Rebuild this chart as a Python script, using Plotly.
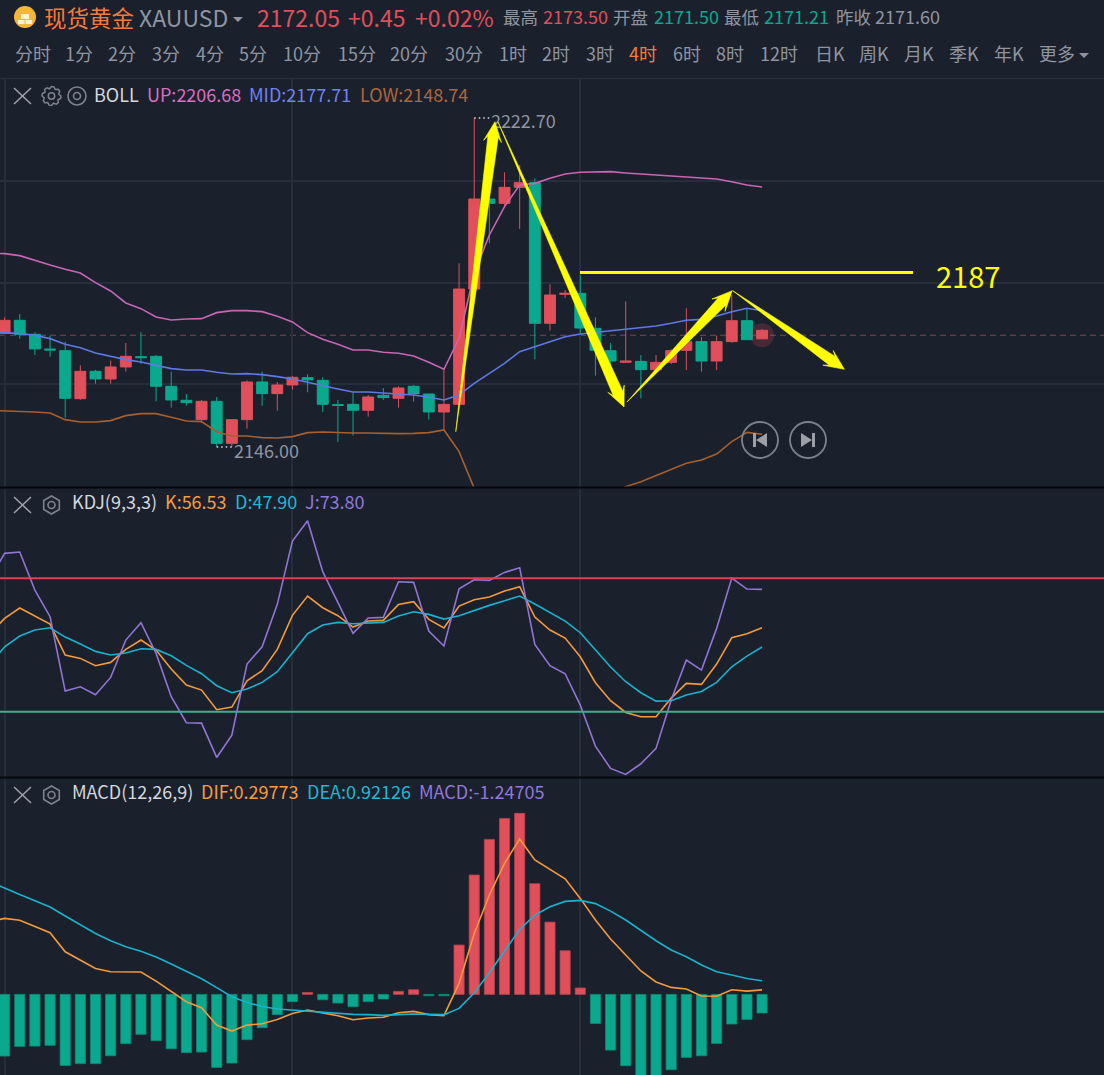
import numpy as np
import plotly.graph_objects as go
from plotly.subplots import make_subplots

W, H = 1104, 1075
BG = '#1a202c'
GRID = '#252e3a'
RED = '#e04f5a'
GREEN = '#0aa98d'
YELLOW = '#ffff00'
GRAY = '#8f95a0'
FONT = 'Noto Sans CJK SC'

# candles, one row per ten bars
candle_idx = list(range(51))
opens = [2172.50, 2175.53, 2172.27, 2168.85, 2168.46, 2157.27, 2163.65, 2161.86, 2164.66, 2167.06,
         2167.14, 2160.15, 2156.89, 2152.38, 2156.65, 2146.86, 2152.38, 2161.16, 2158.44, 2160.46,
         2162.17, 2161.55, 2155.88, 2155.95, 2154.56, 2158.05, 2157.35, 2160.15, 2158.36, 2154.17,
         2155.95, 2182.83, 2203.81, 2202.80, 2206.53, 2207.62, 2174.83, 2181.59, 2181.82, 2173.67,
         2168.46, 2165.74, 2165.97, 2164.03, 2165.74, 2168.54, 2170.56, 2166.05, 2170.56, 2175.45,
         2171.21]
highs = [2176.23, 2177.01, 2172.74, 2171.96, 2170.56, 2165.04, 2163.96, 2166.13, 2170.25, 2172.74,
         2167.45, 2163.57, 2158.36, 2156.96, 2157.66, 2152.38, 2161.55, 2163.57, 2161.16, 2162.56,
         2162.95, 2162.25, 2156.96, 2158.75, 2158.13, 2159.76, 2160.15, 2160.46, 2158.36, 2164.34,
         2188.82, 2222.70, 2203.81, 2210.03, 2211.74, 2208.63, 2183.92, 2182.60, 2186.10, 2176.23,
         2170.25, 2179.96, 2167.45, 2167.45, 2168.77, 2178.33, 2171.65, 2171.96, 2181.44, 2178.17,
         2173.50]
lows = [2172.50, 2171.26, 2167.45, 2167.06, 2152.85, 2156.96, 2160.77, 2160.77, 2163.57, 2165.36,
        2156.65, 2155.18, 2155.64, 2151.68, 2146.00, 2146.09, 2150.28, 2155.64, 2154.48, 2159.37,
        2158.75, 2154.17, 2147.17, 2148.65, 2153.08, 2156.96, 2155.18, 2156.58, 2152.38, 2149.97,
        2155.95, 2182.83, 2193.48, 2201.79, 2196.82, 2166.44, 2173.12, 2180.74, 2172.50, 2162.63,
        2165.12, 2165.74, 2157.35, 2164.03, 2165.35, 2163.95, 2163.56, 2163.95, 2170.32, 2171.02,
        2171.21]
closes = [2175.53, 2172.27, 2168.85, 2168.62, 2157.35, 2163.65, 2161.86, 2164.66, 2167.14, 2166.83,
          2160.15, 2156.96, 2156.34, 2156.65, 2146.86, 2152.38, 2161.16, 2158.44, 2160.46, 2162.25,
          2161.63, 2155.95, 2155.72, 2154.56, 2157.66, 2157.51, 2159.76, 2158.44, 2154.17, 2155.95,
          2182.83, 2203.81, 2202.80, 2206.53, 2207.62, 2174.83, 2181.44, 2181.82, 2173.74, 2168.54,
          2166.05, 2166.05, 2164.03, 2165.74, 2168.46, 2170.56, 2166.05, 2170.56, 2175.45, 2171.02,
          2173.20]

# lines carry one extra leading bar so they reach the left edge
line_idx = list(range(-1, 51))
boll_up = [2191.15, 2191.07, 2190.61, 2189.44, 2188.43, 2187.42, 2186.57, 2184.31, 2182.37, 2179.57, 2178.25,
           2176.31, 2175.61, 2175.85, 2175.92, 2177.32, 2177.79, 2177.79, 2177.55, 2176.47, 2175.15,
           2172.66, 2171.11, 2169.94, 2168.62, 2168.62, 2168.08, 2167.84, 2167.22, 2165.74, 2164.11,
           2171.33, 2186.49, 2195.42, 2202.03, 2207.08, 2207.46, 2208.63, 2209.64, 2210.03, 2210.18,
           2210.18, 2209.87, 2209.64, 2209.33, 2209.17, 2208.86, 2208.71, 2208.48, 2207.85, 2207.08,
           2206.61]
boll_mid = [2172.89, 2172.74, 2172.43, 2172.04, 2171.26, 2169.94, 2169.16, 2167.92, 2167.06, 2166.37, 2165.82,
            2165.04, 2164.27, 2163.96, 2163.96, 2163.41, 2163.02, 2163.10, 2162.87, 2162.40, 2161.86,
            2161.08, 2160.23, 2159.53, 2158.83, 2158.83, 2158.60, 2158.44, 2158.13, 2157.59, 2156.96,
            2158.13, 2160.84, 2163.18, 2165.51, 2168.23, 2169.39, 2170.40, 2171.72, 2172.34, 2172.73,
            2172.97, 2173.43, 2173.74, 2174.21, 2174.83, 2175.53, 2175.76, 2176.54, 2177.55, 2178.33,
            2177.78]
boll_low = [2154.56, 2154.48, 2154.32, 2154.17, 2153.93, 2152.38, 2151.84, 2151.84, 2152.15, 2153.31, 2153.78,
            2153.78, 2152.92, 2152.07, 2151.91, 2149.58, 2148.57, 2148.57, 2148.18, 2148.11, 2148.42,
            2149.35, 2149.50, 2149.35, 2149.27, 2149.27, 2149.12, 2149.12, 2149.19, 2149.35, 2149.97,
            2144.92, 2136.37, 2128.99, 2122.77, 2118.11, 2115.00, 2118.89, 2122.77, 2127.43, 2132.10,
            2135.20, 2136.76, 2137.92, 2139.32, 2140.64, 2142.20, 2142.97, 2144.37, 2147.25, 2149.42,
            2148.96]

kdj_k = [54.77, 61.97, 66.62, 63.02, 59.42, 45.47, 43.97, 40.67, 42.17, 48.02, 52.22,
         47.72, 39.17, 31.97, 29.72, 20.87, 22.07, 33.92, 38.42, 48.02, 63.32,
         72.02, 66.77, 63.17, 58.07, 60.77, 61.07, 68.27, 69.47, 61.52, 57.62,
         67.52, 70.37, 71.57, 74.27, 76.22, 62.57, 56.72, 53.12, 44.72, 33.02,
         24.92, 19.67, 17.72, 17.72, 26.12, 32.72, 32.27, 41.42, 53.27, 55.07,
         57.77]
kdj_d = [40.97, 49.22, 54.02, 56.72, 57.77, 53.57, 50.42, 47.12, 45.47, 46.37, 48.32,
         48.02, 45.17, 40.82, 37.07, 31.67, 28.52, 30.17, 33.17, 37.97, 46.52,
         55.07, 58.97, 60.17, 59.57, 59.72, 60.17, 63.02, 64.97, 63.77, 61.67,
         63.17, 65.57, 67.82, 69.92, 72.02, 68.42, 64.67, 60.77, 55.52, 48.02,
         40.07, 33.47, 28.52, 24.77, 24.92, 27.47, 29.12, 33.17, 40.22, 45.02,
         49.07]
kdj_j = [79.22, 91.22, 91.82, 74.72, 62.72, 29.27, 31.22, 27.62, 35.42, 52.22, 60.02,
         46.22, 26.72, 15.02, 14.87, -0.58, 9.47, 41.42, 49.22, 68.27, 96.77,
         105.92, 82.97, 69.02, 55.22, 62.12, 62.42, 78.47, 78.17, 56.27, 49.52,
         75.32, 79.37, 79.07, 82.67, 84.77, 50.27, 40.67, 37.07, 22.97, 4.52,
         -5.53, -8.23, -3.43, 3.47, 25.22, 43.22, 38.72, 57.47, 80.12, 75.17,
         75.02]

macd_hist = [-4.14, -3.49, -3.47, -3.42, -4.77, -4.65, -4.65, -4.12, -3.31, -2.68,
             -3.11, -3.65, -3.91, -3.87, -4.90, -4.61, -3.04, -2.24, -1.36, -0.49,
             0.13, -0.36, -0.58, -0.83, -0.49, -0.31, 0.20, 0.31, -0.09, -0.09,
             3.31, 8.01, 10.40, 11.81, 12.15, 7.43, 4.85, 2.93, 0.43, -1.95,
             -3.74, -4.79, -5.64, -5.75, -5.06, -4.23, -4.12, -3.29, -1.99, -1.68,
             -1.25]
macd_dif = [4.88, 5.10, 4.97, 4.54, 4.14, 2.86, 2.30, 1.74, 1.52, 1.50, 1.50,
            0.89, 0.18, -0.49, -0.89, -2.06, -2.46, -2.06, -1.97, -1.68, -1.28,
            -1.05, -1.25, -1.43, -1.70, -1.59, -1.54, -1.23, -1.14, -1.36, -1.43,
            0.74, 4.09, 6.67, 8.79, 10.43, 9.02, 8.39, 7.76, 6.44, 4.99,
            3.71, 2.64, 1.57, 0.83, 0.47, 0.36, -0.11, -0.13, 0.31, 0.22,
            0.30]
macd_dea = [7.56, 7.16, 6.71, 6.29, 5.86, 5.26, 4.68, 4.09, 3.60, 3.20, 2.89,
            2.51, 2.04, 1.54, 1.05, 0.45, -0.16, -0.54, -0.81, -0.98, -1.05,
            -1.10, -1.16, -1.28, -1.34, -1.36, -1.41, -1.36, -1.32, -1.34, -1.36,
            -0.94, 0.11, 1.45, 2.93, 4.36, 5.32, 5.88, 6.24, 6.31, 6.09,
            5.59, 4.99, 4.30, 3.60, 2.98, 2.53, 1.97, 1.52, 1.30, 1.07,
            0.92]

last_price = 2172.05
resistance = 2186.7
kdj_levels = [80, 20]
# hand drawn arrows: (bar, price)
arrow_tails = [(29.78, 2149.57), (32.57, 2221.76), (41.08, 2156.49), (48.06, 2182.44)]
arrow_heads = [(32.37, 2221.83), (40.89, 2155.33), (48.03, 2182.44), (55.43, 2164.11)]

# axis scales of the screen shot
PX_BAR = 15.15
PX_USD = 4.29
x_range = [-0.3036, 72.57]
price_range = [2136.68, 2231.78]
kdj_range = [-9.38, 120.17]
macd_range = [-5.41, 14.52]
LINE_W = 1.6


def X(px):
    return px / W


def Y(py):
    return 1 - py / H


fig = make_subplots(rows=3, cols=1, vertical_spacing=0)

fig.add_trace(go.Candlestick(
    x=candle_idx, open=opens, high=highs, low=lows, close=closes,
    increasing=dict(line=dict(color=RED, width=1), fillcolor=RED),
    decreasing=dict(line=dict(color=GREEN, width=1), fillcolor=GREEN),
    whiskerwidth=0, showlegend=False), row=1, col=1)

for vals, color in [(boll_up, '#c766b3'), (boll_mid, '#5f78e6'), (boll_low, '#a85f2c')]:
    fig.add_trace(go.Scatter(x=line_idx, y=vals, mode='lines', line=dict(color=color, width=LINE_W),
                             showlegend=False), row=1, col=1)

# current price: dashed level and glow on the last candle
fig.add_hline(y=last_price, line=dict(color='#7a4553', width=1, dash='6px,4px'), layer='below', row=1, col=1)
fig.add_trace(go.Scatter(x=[candle_idx[-1]], y=[last_price], mode='markers',
                         marker=dict(size=24, color='rgba(224,79,90,0.22)'), showlegend=False), row=1, col=1)

# high and low markers
fig.add_trace(go.Scatter(x=[31, 32], y=[2222.70, 2222.70], mode='lines',
                         line=dict(color='#d8dade', width=1.5, dash='1.5px,3px'), showlegend=False), row=1, col=1)
fig.add_trace(go.Scatter(x=[14, 15], y=[2146.00, 2146.00], mode='lines',
                         line=dict(color='#d8dade', width=1.5, dash='1.5px,3px'), showlegend=False), row=1, col=1)
fig.add_trace(go.Scatter(x=[32.1, 15.14], y=[2221.5, 2144.6], mode='text', text=['2222.70', '2146.00'],
                         textposition='middle right', textfont=dict(family=FONT, size=18, color=GRAY),
                         showlegend=False), row=1, col=1)

# resistance line
fig.add_trace(go.Scatter(x=[37.98, 59.96], y=[resistance, resistance], mode='lines',
                         line=dict(color=YELLOW, width=3), showlegend=False), row=1, col=1)


def arrow_poly(tail, head, shaft=10.5, barb=18, head_len=20):
    vec = np.array([(head[0] - tail[0]) * PX_BAR, -(head[1] - tail[1]) * PX_USD])
    length = np.hypot(*vec)
    u = vec / length
    n = np.array([-u[1], u[0]])
    pts = [np.zeros(2),
           u * (length - head_len + 5) + n * shaft / 2,
           u * (length - head_len) + n * barb / 2,
           vec,
           u * (length - head_len) - n * barb / 2,
           u * (length - head_len + 5) - n * shaft / 2,
           np.zeros(2)]
    xs = [tail[0] + p[0] / PX_BAR for p in pts]
    ys = [tail[1] - p[1] / PX_USD for p in pts]
    return xs, ys


for tail, head in zip(arrow_tails, arrow_heads):
    xs, ys = arrow_poly(tail, head)
    fig.add_trace(go.Scatter(x=xs, y=ys, mode='lines', fill='toself', fillcolor=YELLOW,
                             line=dict(color=YELLOW, width=0.6), showlegend=False), row=1, col=1)

# KDJ
for vals, color in [(kdj_k, '#f59a3b'), (kdj_d, '#17b3cf'), (kdj_j, '#9075d6')]:
    fig.add_trace(go.Scatter(x=line_idx, y=vals, mode='lines', line=dict(color=color, width=LINE_W),
                             showlegend=False), row=2, col=1)
for level, color in zip(kdj_levels, ['#e0404f', '#3fae8c']):
    fig.add_hline(y=level, line=dict(color=color, width=2), row=2, col=1)

# MACD
fig.add_trace(go.Bar(x=candle_idx, y=macd_hist, marker_color=[RED if v > 0 else GREEN for v in macd_hist],
                     marker_line=dict(width=0.8, color=['#b8434e' if v > 0 else '#0b8a76' for v in macd_hist]),
                     showlegend=False), row=3, col=1)
for vals, color in [(macd_dif, '#f59a3b'), (macd_dea, '#17b3cf')]:
    fig.add_trace(go.Scatter(x=line_idx, y=vals, mode='lines', line=dict(color=color, width=LINE_W),
                             showlegend=False), row=3, col=1)

fig.update_xaxes(range=x_range, tickvals=[0, 19, 38], showticklabels=False, ticks='', showgrid=True,
                 gridcolor=GRID, gridwidth=2, zeroline=False, showline=False, rangeslider_visible=False)
fig.update_yaxes(showticklabels=False, ticks='', showgrid=False, zeroline=False, showline=False)
fig.update_yaxes(range=price_range, domain=[Y(487), Y(79)], showgrid=True, gridcolor=GRID, gridwidth=1.5,
                 tickvals=[2208.08, 2184.30, 2160.62], row=1, col=1)
fig.update_yaxes(range=kdj_range, domain=[Y(777), Y(489)], row=2, col=1)
fig.update_yaxes(range=macd_range, domain=[Y(1075), Y(778)], row=3, col=1)

# ---- header and icon chrome ----
annots = []


def txt(x, y, text, color, size, anchor='left'):
    annots.append(dict(x=X(x), y=Y(y), xref='paper', yref='paper', text=text, showarrow=False,
                       xanchor=anchor, yanchor='middle', borderpad=0,
                       font=dict(family=FONT, size=size, color=color)))


# y is just low enough that these text boxes stay inside the window
txt(43, 17, '现货黄金', '#f57b3c', 22.5)
txt(138, 17, 'XAUUSD', GRAY, 23)
txt(256, 17, '2172.05', RED, 23)
txt(347, 17, '+0.45', RED, 23)
txt(414, 17, '+0.02%', RED, 23)

head_labels = ['最高', '开盘', '最低', '昨收']
head_label_x = [502, 612, 723, 835]
head_values = ['2173.50', '2171.50', '2171.21', '2171.60']
head_value_x = [542, 653, 763, 874]
head_colors = [RED, GREEN, GREEN, GRAY]
for lab, lx, val, vx, col in zip(head_labels, head_label_x, head_values, head_value_x, head_colors):
    txt(lx, 16, lab, GRAY, 17.5)
    txt(vx, 16, val, col, 18)

tab_labels = ['分时', '1分', '2分', '3分', '4分', '5分', '10分', '15分', '20分', '30分', '1时', '2时', '3时',
              '4时', '6时', '8时', '12时', '日K', '周K', '月K', '季K', '年K', '更多']
tab_x = [14, 64, 107, 151, 195, 238, 282, 337, 389, 444, 498, 541, 585, 628, 672, 715, 759, 814, 858, 903,
         948, 993, 1038]
for lab, tx in zip(tab_labels, tab_x):
    txt(tx, 53, lab, '#f57b3c' if lab == '4时' else GRAY, 18)

txt(93, 94, 'BOLL', '#d5d8dc', 18)
txt(146, 94, 'UP:2206.68', '#d86fc0', 18)
txt(248, 94, 'MID:2177.71', '#6f82f0', 18)
txt(359, 94, 'LOW:2148.74', '#b0663a', 18)
txt(71, 501, 'KDJ(9,3,3)', '#d5d8dc', 18)
txt(164, 501, 'K:56.53', '#f79d3c', 18)
txt(234, 501, 'D:47.90', '#1fb8d4', 18)
txt(304, 501, 'J:73.80', '#9178dc', 18)
txt(71, 791, 'MACD(12,26,9)', '#d5d8dc', 18)
txt(200, 791, 'DIF:0.29773', '#f79d3c', 18)
txt(306, 791, 'DEA:0.92126', '#1fb8d4', 18)
txt(418, 791, 'MACD:-1.24705', '#9178dc', 18)
txt(935, 275, '2187', YELLOW, 29)

shapes = []


def line(x0, y0, x1, y1, color, width):
    shapes.append(dict(type='line', xref='paper', yref='paper', x0=X(x0), y0=Y(y0), x1=X(x1), y1=Y(y1),
                       line=dict(color=color, width=width)))


def circle(cx, cy, r, color, width, fill='rgba(0,0,0,0)'):
    shapes.append(dict(type='circle', xref='paper', yref='paper', x0=X(cx - r), y0=Y(cy - r),
                       x1=X(cx + r), y1=Y(cy + r), fillcolor=fill, line=dict(color=color, width=width)))


def poly(points, fill, color=None, width=0):
    path = 'M' + ' L'.join(f'{X(a):.5f} {Y(b):.5f}' for a, b in points) + ' Z'
    shapes.append(dict(type='path', xref='paper', yref='paper', path=path, fillcolor=fill,
                       line=dict(color=color or fill, width=width)))


def hexagon(cx, cy, r=9):
    pts = [(cx + r * np.sin(np.pi / 3 * k), cy - r * np.cos(np.pi / 3 * k)) for k in range(6)]
    poly(pts, 'rgba(0,0,0,0)', '#7d838e', 1.6)
    circle(cx, cy, 3.5, '#7d838e', 1.6)


def gear(cx, cy):
    pts = []
    for k in range(24):
        r = 9.5 if k % 3 != 2 else 7.5
        pts.append((cx + r * np.sin(np.pi / 12 * k), cy - r * np.cos(np.pi / 12 * k)))
    poly(pts, 'rgba(0,0,0,0)', '#7d838e', 1.5)
    circle(cx, cy, 3.2, '#7d838e', 1.5)


# panel dividers and the line under the tabs
line(0, 487.5, W, 487.5, '#05070a', 2)
line(0, 777.5, W, 777.5, '#05070a', 2)
line(0, 78.5, W, 78.5, GRID, 1.5)

for cy in (96, 505, 795):
    line(14, cy - 8, 31, cy + 8, '#9ca1aa', 1.5)
    line(31, cy - 8, 14, cy + 8, '#9ca1aa', 1.5)
gear(51.5, 96)
for cy in (505, 795):
    hexagon(51.5, cy)
circle(77, 96, 9, '#7d838e', 1.6)
circle(77, 96, 3.5, '#7d838e', 1.6)

# gold logo
circle(25, 17, 11, '#f3b73b', 0, '#f3b73b')
poly([(21, 14), (29, 14), (29, 19), (21, 19)], '#fff3d0')
poly([(18, 20), (24.5, 20), (24.5, 24), (18, 24)], '#fff3d0')
poly([(25.5, 20), (32, 20), (32, 24), (25.5, 24)], '#fff3d0')

# little dropdown triangles
poly([(233, 17), (243, 17), (238, 22)], GRAY)
poly([(1079, 53), (1089, 53), (1084, 58)], GRAY)

# playback buttons
circle(760, 440, 18, '#7d838e', 1.8)
circle(808, 440, 18, '#7d838e', 1.8)
poly([(753, 433), (756, 433), (756, 447), (753, 447)], '#9a9fa8')
poly([(767, 433), (767, 447), (756, 440)], '#9a9fa8')
poly([(801, 433), (812, 440), (801, 447)], '#9a9fa8')
poly([(812, 433), (815, 433), (815, 447), (812, 447)], '#9a9fa8')

fig.update_layout(
    width=W, height=H,
    margin=dict(l=0, r=0, t=0, b=0),
    paper_bgcolor=BG, plot_bgcolor=BG,
    bargap=0.33, boxgap=0.28, boxgroupgap=0,
    showlegend=False,
    hovermode=False,
    annotations=annots,
    font=dict(family=FONT),
)
for s in shapes:
    fig.add_shape(**s)

fig.write_html("out.html", config={'displayModeBar': False},
               post_script="document.body.style.margin='0';document.body.style.overflow='hidden';")
